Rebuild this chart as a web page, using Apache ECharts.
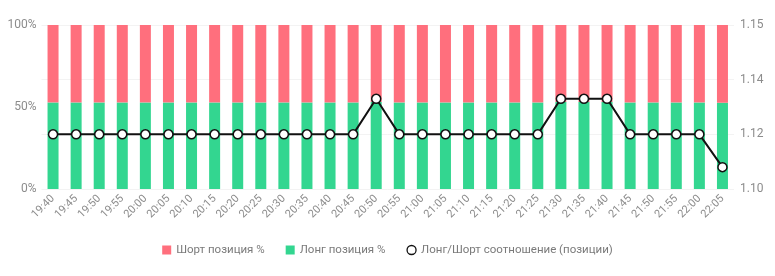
<!DOCTYPE html>
<html>
<head>
<meta charset="utf-8">
<script src="https://cdn.jsdelivr.net/npm/echarts@6/dist/echarts.min.js"></script>
<style>
  html, body { margin: 0; padding: 0; background: #fff; }
  #chart { width: 775px; height: 276px; }
</style>
</head>
<body>
<div id="chart"></div>
<script>
// время
const categories = ['19:40', '19:45', '19:50', '19:55', '20:00', '20:05', '20:10', '20:15', '20:20', '20:25',
  '20:30', '20:35', '20:40', '20:45', '20:50', '20:55', '21:00', '21:05', '21:10', '21:15',
  '21:20', '21:25', '21:30', '21:35', '21:40', '21:45', '21:50', '21:55', '22:00', '22:05']

// лонг / шорт, %
const longPct = [52.8, 52.8, 52.8, 52.8, 52.8, 52.8, 52.8, 52.8, 52.8, 52.8,
  52.8, 52.8, 52.8, 52.8, 53.1, 52.8, 52.8, 52.8, 52.8, 52.8,
  52.8, 52.8, 53.1, 53.1, 53.1, 52.8, 52.8, 52.8, 52.8, 52.6]
const shortPct = longPct.map(v => +(100 - v).toFixed(1))

// соотношение
const ratio = [1.12, 1.12, 1.12, 1.12, 1.12, 1.12, 1.12, 1.12, 1.12, 1.12,
  1.12, 1.12, 1.12, 1.12, 1.133, 1.12, 1.12, 1.12, 1.12, 1.12,
  1.12, 1.12, 1.133, 1.133, 1.133, 1.12, 1.12, 1.12, 1.12, 1.108]

// подписи правой оси
const rightTicks = ['1.10', '1.12', '1.14', '1.15']

const chart = echarts.init(document.getElementById('chart'))

const labelColor = '#8c8c8c'
const font = 'Roboto, sans-serif'

chart.setOption({
  animation: false,
  textStyle: { fontFamily: font },
  legend: {
    bottom: 15,
    left: 'center',
    itemWidth: 9,
    itemHeight: 9,
    itemGap: 21,
    textStyle: { color: '#7a7a7a', fontSize: 11.5, fontFamily: font },
    data: [
      { name: 'Шорт позиция %', icon: 'rect' },
      { name: 'Лонг позиция %', icon: 'rect' },
      {
        name: 'Лонг/Шорт соотношение (позиции)',
        icon: 'circle',
        itemStyle: { color: '#fff', borderColor: '#111', borderWidth: 1.3 }
      }
    ]
  },
  grid: {
    left: 41.5,
    right: 41,
    top: 25,
    bottom: 87
  },
  xAxis: {
    type: 'category',
    data: categories,
    axisLine: { show: false },
    axisTick: { show: false },
    axisLabel: {
      color: labelColor,
      fontSize: 11,
      rotate: 45,
      interval: 0,
      margin: 8
    }
  },
  yAxis: [
    {
      type: 'value',
      min: 0,
      max: 100,
      interval: 50,
      axisLine: { show: false },
      axisTick: { show: false },
      splitLine: { show: false },
      axisLabel: { color: labelColor, fontSize: 12, formatter: '{value}%', margin: 5 }
    },
    {
      type: 'value',
      min: 1.10,
      max: 1.16,
      interval: 0.02,
      axisLine: { show: false },
      axisTick: { show: false },
      splitLine: { lineStyle: { color: '#f3f3f3' } },
      axisLabel: {
        color: labelColor,
        fontSize: 12,
        margin: 6,
        formatter: v => rightTicks[Math.round((v - 1.10) / 0.02)]
      }
    }
  ],
  series: [
    {
      name: 'Лонг позиция %',
      type: 'bar',
      stack: 'pos',
      barWidth: 11,
      data: longPct,
      itemStyle: { color: '#33d690' }
    },
    {
      name: 'Шорт позиция %',
      type: 'bar',
      stack: 'pos',
      barWidth: 11,
      data: shortPct,
      itemStyle: { color: '#ff6f7d' }
    },
    {
      name: 'Лонг/Шорт соотношение (позиции)',
      type: 'line',
      yAxisIndex: 1,
      data: ratio,
      symbol: 'circle',
      symbolSize: 9,
      lineStyle: { color: '#111', width: 2 },
      itemStyle: { color: '#fff', borderColor: '#111', borderWidth: 1.5 }
    }
  ]
})
</script>
</body>
</html>
